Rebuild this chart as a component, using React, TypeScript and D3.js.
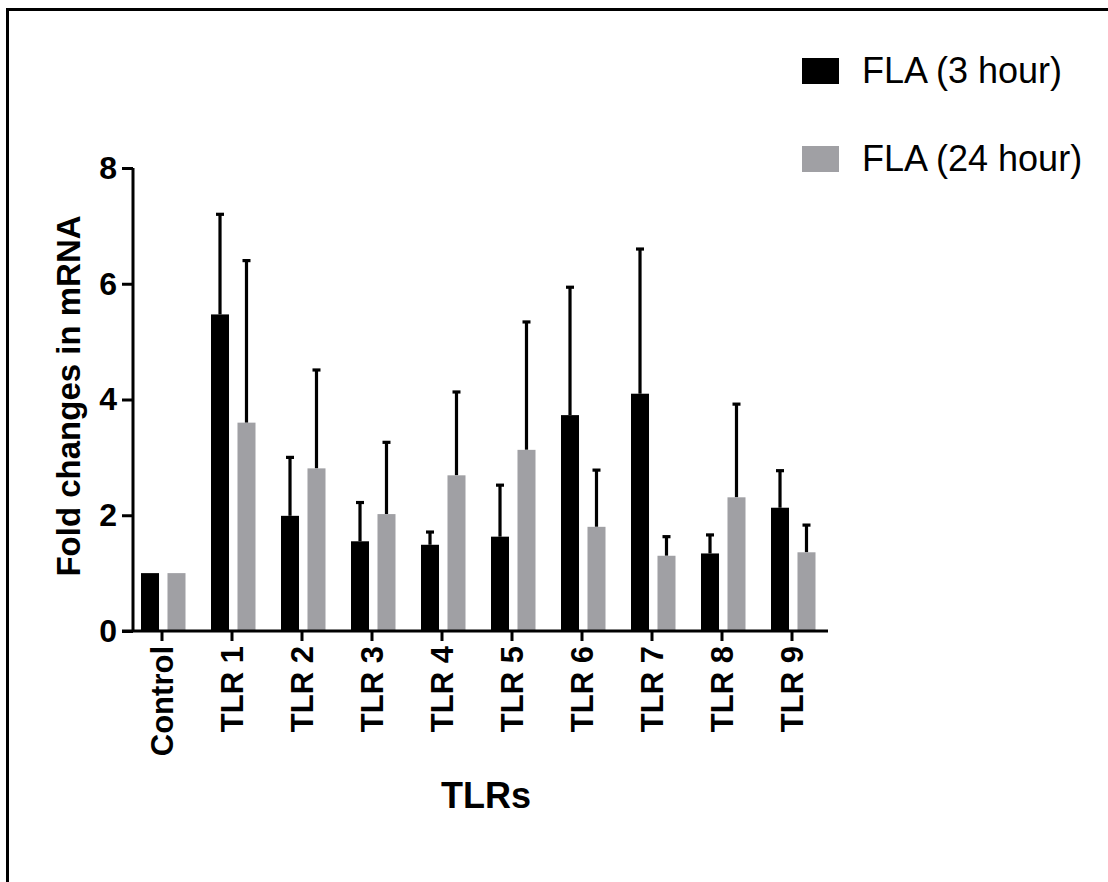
import React, { useEffect, useRef } from 'react';
import * as d3 from 'd3';

// data
const categories = ['Control', 'TLR 1', 'TLR 2', 'TLR 3', 'TLR 4', 'TLR 5', 'TLR 6', 'TLR 7', 'TLR 8', 'TLR 9'];
const seriesNames = ['FLA (3 hour)', 'FLA (24 hour)'];
const mean3h = [1.0, 5.47, 1.99, 1.55, 1.49, 1.63, 3.73, 4.1, 1.34, 2.13];
const sd3h = [0, 1.73, 1.01, 0.67, 0.22, 0.89, 2.21, 2.5, 0.32, 0.64];
const mean24h = [1.0, 3.6, 2.81, 2.02, 2.69, 3.13, 1.8, 1.3, 2.31, 1.36];
const sd24h = [0, 2.8, 1.7, 1.24, 1.44, 2.21, 0.98, 0.33, 1.61, 0.47];
const yTicks = [0, 2, 4, 6, 8];

const colors = ['#000000', '#a0a0a4'];
const font = '"Liberation Sans", Arial, Helvetica, sans-serif';

function Chart() {
  const ref = useRef<SVGSVGElement>(null);

  useEffect(() => {
    const svg = d3.select(ref.current);
    svg.selectAll('*').remove();

    // frame
    svg.append('path')
      .attr('d', 'M7.5,882 L7.5,9.5 L1108,9.5')
      .attr('fill', 'none')
      .attr('stroke', '#000')
      .attr('stroke-width', 3);

    const x = d3.scaleBand().domain(categories).range([127, 827]);
    const sub = d3.scaleBand().domain(seriesNames).range([14, 58.5]).paddingInner(0.32);
    const y = d3.scaleLinear().domain([0, 8]).range([631, 168]);

    const rows = categories.map((c, i) => ({
      cat: c,
      vals: [
        { s: seriesNames[0], m: mean3h[i], e: sd3h[i], k: 0 },
        { s: seriesNames[1], m: mean24h[i], e: sd24h[i], k: 1 },
      ],
    }));

    const g = svg.append('g');
    const groups = g.selectAll('g.grp')
      .data(rows).enter()
      .append('g')
      .attr('class', 'grp')
      .attr('transform', d => `translate(${x(d.cat)},0)`);

    const bars = groups.selectAll('g.bar')
      .data(d => d.vals).enter()
      .append('g');

    // error bars (upper only)
    bars.filter(d => d.e > 0).append('line')
      .attr('x1', d => sub(d.s)! + sub.bandwidth() / 2)
      .attr('x2', d => sub(d.s)! + sub.bandwidth() / 2)
      .attr('y1', d => y(d.m))
      .attr('y2', d => y(d.m + d.e))
      .attr('stroke', '#000')
      .attr('stroke-width', 3.2);
    bars.filter(d => d.e > 0).append('line')
      .attr('x1', d => sub(d.s)! + sub.bandwidth() / 2 - 4)
      .attr('x2', d => sub(d.s)! + sub.bandwidth() / 2 + 4)
      .attr('y1', d => y(d.m + d.e))
      .attr('y2', d => y(d.m + d.e))
      .attr('stroke', '#000')
      .attr('stroke-width', 3.2);

    bars.append('rect')
      .attr('x', d => sub(d.s)!)
      .attr('width', sub.bandwidth())
      .attr('y', d => y(d.m))
      .attr('height', d => y(0) - y(d.m))
      .attr('fill', d => colors[d.k]);

    // y axis
    const yAxis = svg.append('g')
      .attr('transform', 'translate(133,0)')
      .call(d3.axisLeft(y).tickValues(yTicks).tickSize(11).tickSizeOuter(0).tickPadding(5));
    yAxis.select('.domain').attr('stroke-width', 3).attr('d', `M0,${y(8)}V${y(0)}`);
    yAxis.selectAll('.tick line').attr('stroke-width', 3);
    yAxis.selectAll('.tick text')
      .attr('font-family', font)
      .attr('font-weight', 'bold')
      .attr('font-size', 32)
      .attr('fill', '#000');

    // x axis
    const xAxis = svg.append('g')
      .attr('transform', `translate(0,${y(0)})`)
      .call(d3.axisBottom(x).tickSize(10).tickSizeOuter(0));
    xAxis.select('.domain').attr('stroke-width', 3).attr('d', 'M122,0H828');
    xAxis.selectAll('.tick line').attr('stroke-width', 3);
    xAxis.selectAll('.tick text')
      .attr('font-family', font)
      .attr('font-weight', 'bold')
      .attr('font-size', 31)
      .attr('fill', '#000')
      .attr('text-anchor', 'end')
      .attr('dy', '0.35em')
      .attr('y', 0)
      .attr('transform', 'translate(0,15) rotate(-90)');

    // axis titles
    svg.append('text')
      .attr('transform', 'translate(80,396) rotate(-90)')
      .attr('text-anchor', 'middle')
      .attr('font-family', font)
      .attr('font-weight', 'bold')
      .attr('font-size', 33)
      .text('Fold changes in mRNA');

    svg.append('text')
      .attr('x', 486)
      .attr('y', 808)
      .attr('text-anchor', 'middle')
      .attr('font-family', font)
      .attr('font-weight', 'bold')
      .attr('font-size', 36)
      .text('TLRs');

    // legend
    const leg = svg.append('g').selectAll('g')
      .data(seriesNames).enter()
      .append('g')
      .attr('transform', (d, i) => `translate(802,${58 + i * 88})`);
    leg.append('rect')
      .attr('width', 37)
      .attr('height', 26)
      .attr('fill', (d, i) => colors[i]);
    leg.append('text')
      .attr('x', 60)
      .attr('y', 25)
      .attr('font-family', font)
      .attr('font-size', 36)
      .text(d => d);
  }, []);

  return (
    <svg ref={ref} width={1108} height={882}
      style={{ position: 'absolute', left: 0, top: 0, background: '#fff' }} />
  );
}

export default function App() {
  return <Chart />;
}
